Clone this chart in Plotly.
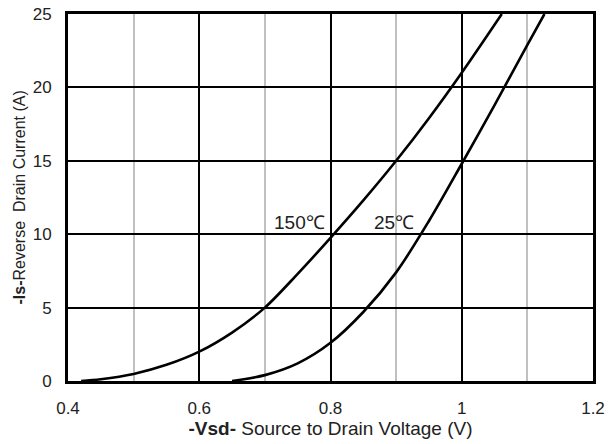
import plotly.graph_objects as go

x150 = [0.42, 0.45, 0.5, 0.55, 0.6, 0.65, 0.7, 0.75, 0.8, 0.85, 0.9, 0.95, 1.0, 1.061]
y150 = [0.0, 0.12, 0.48, 1.1, 2.0, 3.3, 5.0, 7.3, 9.75, 12.3, 15.0, 17.9, 21.0, 25.0]
x25 = [0.65, 0.7, 0.75, 0.8, 0.85, 0.9, 0.95, 1.0, 1.05, 1.1, 1.126]
y25 = [0.0, 0.4, 1.2, 2.6, 4.7, 7.4, 10.9, 14.8, 18.8, 22.9, 25.0]
labels = ["150℃", "25℃"]
label_x = [0.7535, 0.8975]
label_y = [10.15, 10.15]

FONT = "Arial, Liberation Sans, sans-serif"

fig = go.Figure()
for xs, ys in ((x150, y150), (x25, y25)):
    fig.add_trace(go.Scatter(x=xs, y=ys, mode="lines",
                             line=dict(color="black", width=2.6, shape="spline", smoothing=0.9),
                             showlegend=False))

for t, lx, ly in zip(labels, label_x, label_y):
    fig.add_annotation(x=lx, y=ly, text=t, showarrow=False, xanchor="center", yanchor="bottom",
                       font=dict(family=FONT, size=19, color="#222"), yshift=-3)

# y-axis title as a rotated annotation for exact placement
fig.add_annotation(xref="paper", yref="paper", x=0, y=0.5, xshift=-49, text="<b>-Is-</b>Reverse  Drain Current (A)",
                   textangle=-90, showarrow=False, xanchor="center", yanchor="middle",
                   font=dict(family=FONT, size=16, color="#222"))

fig.update_layout(
    width=616, height=444,
    margin=dict(l=68, r=23, t=14, b=63),
    paper_bgcolor="white", plot_bgcolor="white",
    font=dict(family=FONT, size=16, color="#222"),
    xaxis=dict(range=[0.4, 1.2], tickvals=[0.4, 0.6, 0.8, 1.0, 1.2], ticktext=["0.4", "0.6", "0.8", "1", "1.2"],
               showgrid=True, gridcolor="black", gridwidth=1.5, automargin=False,
               minor=dict(tickvals=[0.5, 0.7, 0.9, 1.1], showgrid=True, gridcolor="#c0c0c0", gridwidth=1.5, ticks=""),
               showline=True, linecolor="black", linewidth=3, mirror=True, ticks="", zeroline=False,
               ticklabelstandoff=10, tickfont=dict(size=17),
               title=dict(text="<b>-Vsd-</b> Source to Drain Voltage (V)", font=dict(size=19, family=FONT, color="#222"), standoff=5)),
    yaxis=dict(range=[0, 25], tickvals=[0, 5, 10, 15, 20, 25],
               showgrid=True, gridcolor="black", gridwidth=1.5, automargin=False,
               showline=True, linecolor="black", linewidth=3, mirror=True, ticks="", zeroline=False,
               ticklabelstandoff=10, tickfont=dict(size=17)),
)

fig.write_html("out.html")
